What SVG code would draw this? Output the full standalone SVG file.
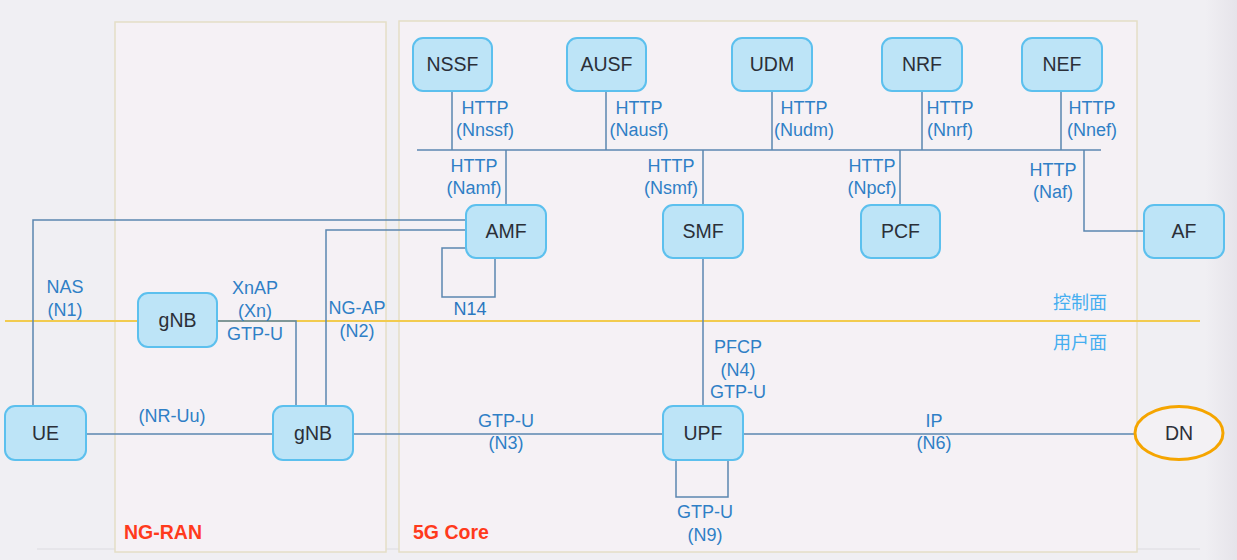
<svg xmlns="http://www.w3.org/2000/svg" width="1237" height="560" viewBox="0 0 1237 560">
<defs>
<style>
.bg{fill:#f0eff3}
.area{fill:#f5f1f5;stroke:#e4dec6;stroke-width:1.5}
.node rect{fill:#bde4f7;stroke:#5cc0ee;stroke-width:2}
.nt{font-family:"Liberation Sans",Arial,sans-serif;font-size:19.5px;fill:#2b2f38;text-anchor:middle}
.lbl{font-family:"Liberation Sans",Arial,sans-serif;font-size:18px;fill:#2f7fc6;text-anchor:middle}
.cjk{font-family:"Liberation Sans","Noto Sans CJK SC",sans-serif;font-size:18px;fill:#45aef0;text-anchor:middle}
.ttl{font-family:"Liberation Sans",Arial,sans-serif;font-size:19.5px;font-weight:bold;fill:#ff3a1c}
.con{fill:none;stroke:#5b86b0;stroke-width:1.5}
</style>
<linearGradient id="edge" x1="0" y1="0" x2="1" y2="0">
<stop offset="0" stop-color="#f0eff3"/>
<stop offset="1" stop-color="#e6e4ea"/>
</linearGradient>
</defs>
<rect class="bg" x="0" y="0" width="1237" height="560"/>
<rect x="1205" y="0" width="32" height="560" fill="url(#edge)"/>
<line x1="37" y1="549" x2="1200" y2="549" stroke="#dcdbe0" stroke-width="1"/>
<g id="ng-ran">
<rect class="area" x="115" y="22" width="271" height="530"/>
<text class="ttl" x="124" y="539">NG-RAN</text>
</g>
<g id="core">
<rect class="area" x="399" y="21" width="738" height="531"/>
<text class="ttl" x="413" y="539">5G Core</text>
</g>
<line id="plane-divider" x1="5" y1="321" x2="1200" y2="321" stroke="#f2cb4f" stroke-width="2"/>
<text class="cjk" x="1080" y="309">控制面</text>
<text class="cjk" x="1080" y="349">用户面</text>
<g id="connectors">
<path class="con" d="M417 150H1101"/>
<path class="con" d="M452 91V150M606 91V150M772 91V150M922 91V150M1061 91V150"/>
<path class="con" d="M506 150V205M703 150V205M900 150V205M1084 150V231H1144"/>
<path class="con" d="M33 406V220H466"/>
<path class="con" d="M326 406V230H466"/>
<path class="con" d="M466 248H442V297H495V258"/>
<path class="con" d="M217 321H296V406"/>
<path class="con" d="M86 434H273M353 434H663M743 434H1134"/>
<path class="con" d="M703 258V406"/>
<path class="con" d="M676 460V497H728V460"/>
<text class="lbl"><tspan x="485" y="114">HTTP</tspan><tspan x="485" y="136">(Nnssf)</tspan></text>
<text class="lbl"><tspan x="639" y="114">HTTP</tspan><tspan x="639" y="136">(Nausf)</tspan></text>
<text class="lbl"><tspan x="804" y="114">HTTP</tspan><tspan x="804" y="136">(Nudm)</tspan></text>
<text class="lbl"><tspan x="950" y="114">HTTP</tspan><tspan x="950" y="136">(Nnrf)</tspan></text>
<text class="lbl"><tspan x="1092" y="114">HTTP</tspan><tspan x="1092" y="136">(Nnef)</tspan></text>
<text class="lbl"><tspan x="474" y="172">HTTP</tspan><tspan x="474" y="194">(Namf)</tspan></text>
<text class="lbl"><tspan x="671" y="172">HTTP</tspan><tspan x="671" y="194">(Nsmf)</tspan></text>
<text class="lbl"><tspan x="872" y="172">HTTP</tspan><tspan x="872" y="194">(Npcf)</tspan></text>
<text class="lbl"><tspan x="1053" y="176">HTTP</tspan><tspan x="1053" y="198">(Naf)</tspan></text>
<text class="lbl"><tspan x="65" y="293">NAS</tspan><tspan x="65" y="316">(N1)</tspan></text>
<text class="lbl"><tspan x="255" y="294">XnAP</tspan><tspan x="255" y="317">(Xn)</tspan><tspan x="255" y="340">GTP-U</tspan></text>
<text class="lbl"><tspan x="357" y="314">NG-AP</tspan><tspan x="357" y="337">(N2)</tspan></text>
<text class="lbl" x="470" y="315" style="fill:#2a78c0">N14</text>
<text class="lbl" x="172" y="422">(NR-Uu)</text>
<text class="lbl"><tspan x="738" y="353">PFCP</tspan><tspan x="738" y="376">(N4)</tspan><tspan x="738" y="398">GTP-U</tspan></text>
<text class="lbl"><tspan x="506" y="427">GTP-U</tspan><tspan x="506" y="449">(N3)</tspan></text>
<text class="lbl"><tspan x="934" y="427">IP</tspan><tspan x="934" y="449">(N6)</tspan></text>
<text class="lbl"><tspan x="705" y="518">GTP-U</tspan><tspan x="705" y="541">(N9)</tspan></text>
</g>
<g id="nssf" class="node"><rect x="413" y="38" width="79" height="53" rx="10"/><text class="nt" x="452.5" y="71">NSSF</text></g>
<g id="ausf" class="node"><rect x="567" y="38" width="79" height="53" rx="10"/><text class="nt" x="606.5" y="71">AUSF</text></g>
<g id="udm" class="node"><rect x="732" y="38" width="80" height="53" rx="10"/><text class="nt" x="772" y="71">UDM</text></g>
<g id="nrf" class="node"><rect x="882" y="38" width="80" height="53" rx="10"/><text class="nt" x="922" y="71">NRF</text></g>
<g id="nef" class="node"><rect x="1022" y="38" width="80" height="53" rx="10"/><text class="nt" x="1062" y="71">NEF</text></g>
<g id="amf" class="node"><rect x="466" y="205" width="80" height="53" rx="10"/><text class="nt" x="506" y="238">AMF</text></g>
<g id="smf" class="node"><rect x="663" y="205" width="80" height="53" rx="10"/><text class="nt" x="703" y="238">SMF</text></g>
<g id="pcf" class="node"><rect x="861" y="205" width="79" height="53" rx="10"/><text class="nt" x="900.5" y="238">PCF</text></g>
<g id="af" class="node"><rect x="1144" y="205" width="80" height="53" rx="10"/><text class="nt" x="1184" y="238">AF</text></g>
<g id="gnb1" class="node"><rect x="138" y="293" width="79" height="54" rx="10"/><text class="nt" x="177.5" y="327">gNB</text></g>
<g id="ue" class="node"><rect x="5" y="406" width="81" height="54" rx="10"/><text class="nt" x="45.5" y="440">UE</text></g>
<g id="gnb2" class="node"><rect x="273" y="406" width="80" height="54" rx="10"/><text class="nt" x="313" y="440">gNB</text></g>
<g id="upf" class="node"><rect x="663" y="406" width="80" height="54" rx="10"/><text class="nt" x="703" y="440">UPF</text></g>
<g id="dn"><ellipse cx="1179" cy="433" rx="44" ry="26.5" fill="#f3f1f4" stroke="#f5a500" stroke-width="3"/><text class="nt" x="1179" y="440">DN</text></g>
</svg>
